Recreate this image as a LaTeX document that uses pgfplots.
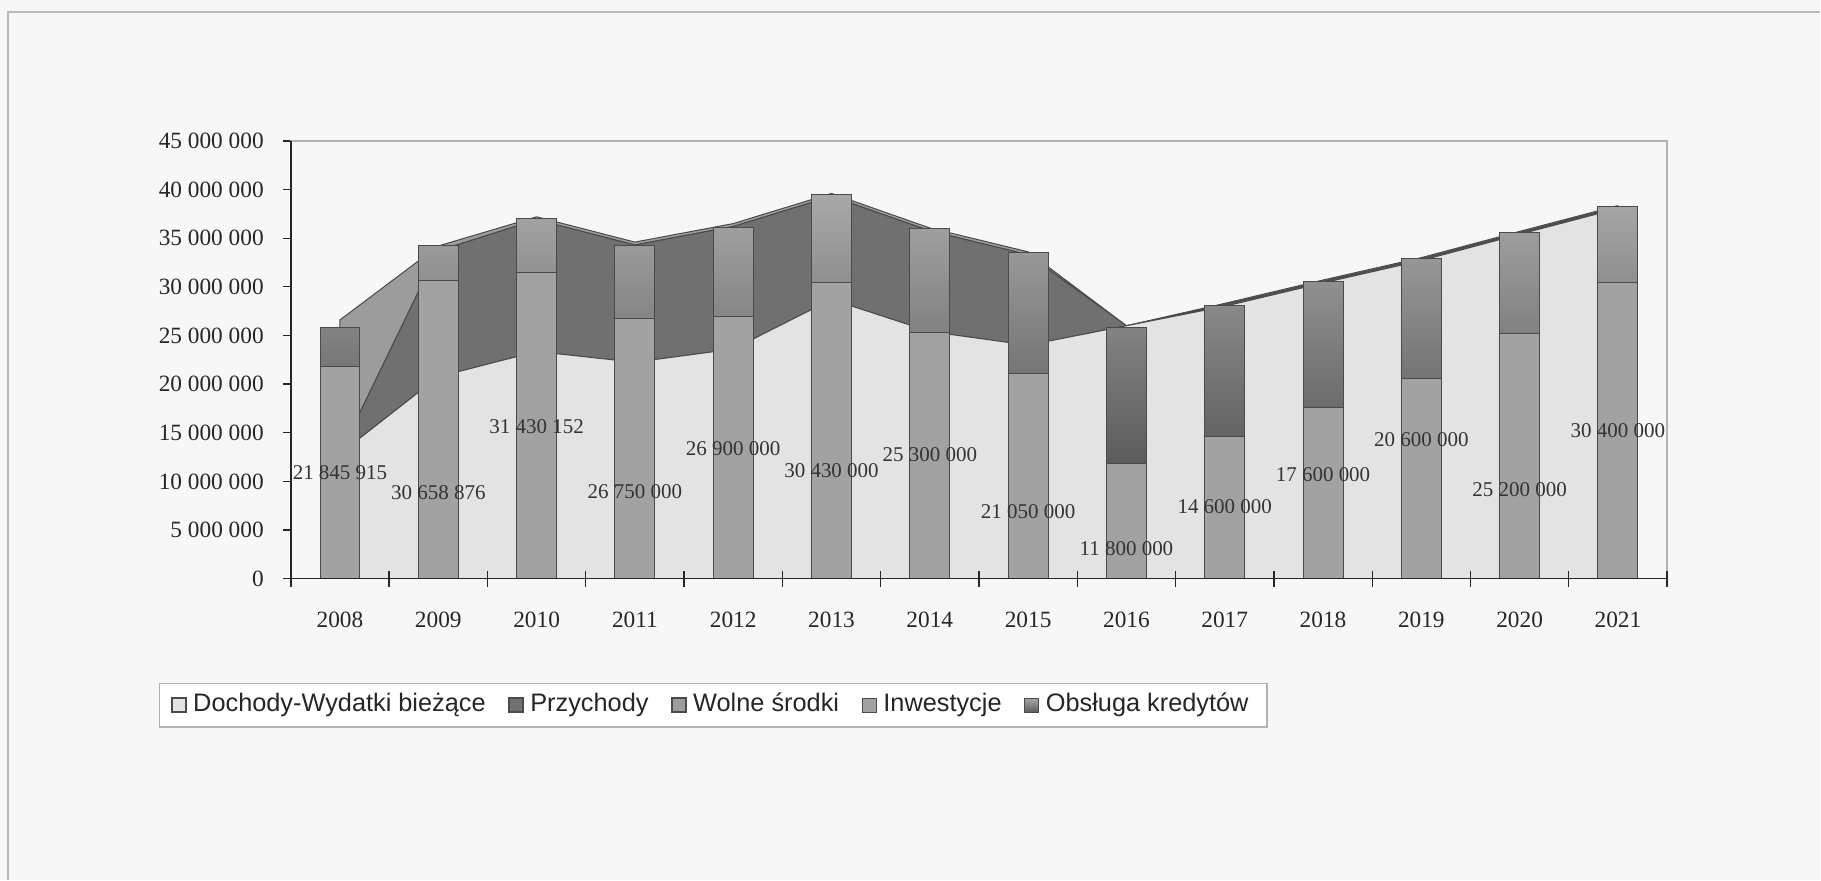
\documentclass[border=0pt]{standalone}
\usepackage{fontspec}
\setmainfont{Liberation Serif}
\newfontfamily\legendfont{Liberation Sans}
\usepackage{pgfplots}
\usepackage{pgfplotstable}
\pgfplotsset{compat=1.18}

\definecolor{pagebg}{HTML}{F7F7F7}
\definecolor{dochody}{HTML}{E3E3E3}
\definecolor{przychody}{HTML}{707070}
\definecolor{wolne}{HTML}{9C9C9C}
\definecolor{inwest}{HTML}{A2A2A2}
\definecolor{oblight}{HTML}{A8A8A8}
\definecolor{obdark}{HTML}{5C5C5C}
\definecolor{edge}{HTML}{4A4A4A}

% stacked areas
\pgfplotstableread{
x doch przych wolne
0 12850000 0 13750000
1 20750000 12950000 500000
2 23350000 13550000 300000
3 22250000 12050000 300000
4 23600000 12600000 300000
5 28700000 10600000 300000
6 25400000 10350000 300000
7 24000000 9300000 300000
8 26000000 0 0
9 28000000 150000 150000
10 30400000 150000 150000
11 32700000 150000 150000
12 35400000 150000 150000
13 38050000 150000 150000
}\areas

% stacked columns
\pgfplotstableread{
x inw obs
0 21845915 3950000
1 30658876 3640000
2 31430152 5640000
3 26750000 7550000
4 26900000 9250000
5 30430000 9070000
6 25300000 10650000
7 21050000 12450000
8 11800000 14000000
9 14600000 13450000
10 17600000 12900000
11 20600000 12300000
12 25200000 10400000
13 30400000 7900000
}\bars

\pgfplotsset{
  base/.style={
    at={(87.3pt,90.3pt)}, anchor=south west,
    scale only axis, width=413.1pt, height=131.4pt,
    xmin=-0.5, xmax=13.5, ymin=0, ymax=45000000,
    scaled y ticks=false,
  },
  sq/.style={legend image code/.code={\draw[##1] (0pt,-2.1pt) rectangle (4.2pt,2.1pt);}},
}

\begin{document}
\begin{tikzpicture}
\fill[pagebg] (0,0) rectangle (546.3pt,264pt);
\draw[gray!55, line width=0.6pt] (2.4pt,0) -- (2.4pt,260.4pt) -- (546.3pt,260.4pt);

% areas, frame, tick labels
\begin{axis}[base,
  axis line style={draw=gray!60, line width=0.45pt},
  xtick={0,...,13},
  xticklabels={2008,2009,2010,2011,2012,2013,2014,2015,2016,2017,2018,2019,2020,2021},
  xtick pos=bottom, xtick style={draw=none},
  ytick={0,5000000,10000000,15000000,20000000,25000000,30000000,35000000,40000000,45000000},
  yticklabels={0,5 000 000,10 000 000,15 000 000,20 000 000,25 000 000,30 000 000,35 000 000,40 000 000,45 000 000},
  ytick pos=left, tick align=outside, major tick length=2.4pt,
  ytick style={draw=gray!30!black, line width=0.4pt},
  tick label style={font=\fontsize{7}{8}\selectfont, text=black!85},
  xticklabel style={yshift=-4.2pt},
  yticklabel style={xshift=-2.2pt},
  stack plots=y, area style,
]
\addplot[fill=dochody, draw=edge, line width=0.3pt] table[x=x,y=doch]{\areas} \closedcycle;
\addplot[fill=przychody, draw=edge, line width=0.3pt] table[x=x,y=przych]{\areas} \closedcycle;
\addplot[fill=wolne, draw=edge, line width=0.3pt] table[x=x,y=wolne]{\areas} \closedcycle;
\end{axis}

% columns and legend
\begin{axis}[base, hide axis,
  ybar stacked, bar width=12pt,
  legend columns=5,
  legend cell align=left,
  legend style={at={(-0.09586,-0.23744)}, anchor=north west,
    draw=gray!60, fill=white, line width=0.4pt,
    font=\legendfont\fontsize{7.6}{9}\selectfont, text=black!85,
    inner xsep=3.5pt, inner ysep=1pt,
    /tikz/every even column/.append style={column sep=4.8pt}},
]
\addlegendimage{sq, fill=dochody, draw=edge}
\addlegendimage{sq, fill=przychody, draw=edge}
\addlegendimage{sq, fill=wolne, draw=edge}
\addplot[sq, fill=inwest, draw=edge, line width=0.3pt] table[x=x,y=inw]{\bars};
\addplot[sq, draw=edge, line width=0.3pt, top color=oblight, bottom color=obdark] table[x=x,y=obs]{\bars};
\legend{Dochody-Wydatki bieżące,Przychody,Wolne środki,Inwestycje,Obsługa kredytów}
\end{axis}

% value labels, left and bottom axis lines, category ticks
\begin{axis}[base,
  axis x line*=bottom, axis y line*=left,
  axis line style={draw=gray!30!black, line width=0.45pt},
  xtick={-0.5,0.5,...,13.5}, xticklabel={\relax},
  ytick=\empty,
  tick align=center, major tick length=4.8pt,
  xtick style={draw=gray!30!black, line width=0.4pt},
]
\addplot[draw=none, mark=none, nodes near coords, point meta=explicit symbolic,
  every node near coord/.append style={anchor=center, inner sep=0pt,
    font=\fontsize{6.3}{7}\selectfont, text=black!80}]
  coordinates {
    (0,10940000) [21 845 915]
    (1,8890000) [30 658 876]
    (2,15680000) [31 430 152]
    (3,8920000) [26 750 000]
    (4,13400000) [26 900 000]
    (5,11070000) [30 430 000]
    (6,12710000) [25 300 000]
    (7,6900000) [21 050 000]
    (8,3070000) [11 800 000]
    (9,7410000) [14 600 000]
    (10,10730000) [17 600 000]
    (11,14250000) [20 600 000]
    (12,9190000) [25 200 000]
    (13,15170000) [30 400 000]
  };
\end{axis}
\end{tikzpicture}
\end{document}
